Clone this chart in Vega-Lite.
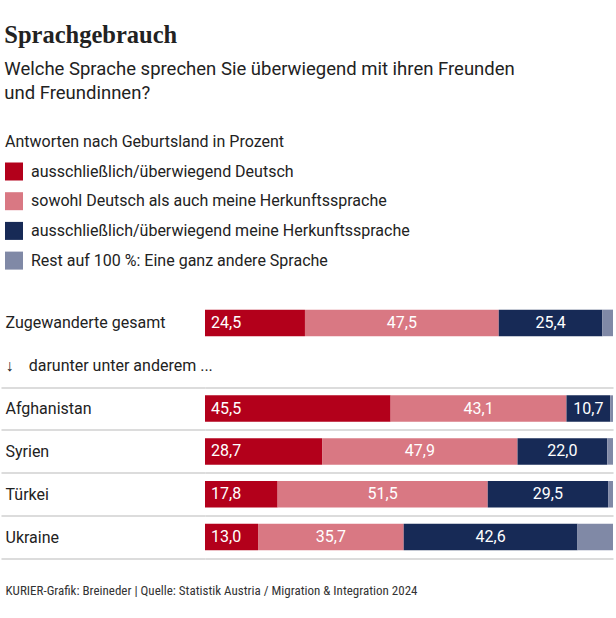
{
  "$schema": "https://vega.github.io/schema/vega-lite/v6.json",
  "width": 408,
  "height": 257,
  "padding": {"left": 0, "right": 4, "top": 22.5, "bottom": 10},
  "background": "white",
  "title": {
    "text": "Sprachgebrauch",
    "subtitle": ["Welche Sprache sprechen Sie überwiegend mit ihren Freunden", "und Freundinnen?"],
    "anchor": "start",
    "dx": 4,
    "font": "Liberation Serif",
    "fontSize": 24.5,
    "fontWeight": "bold",
    "color": "#222222",
    "subtitleFont": "Roboto",
    "subtitleFontSize": 18.5,
    "subtitleColor": "#222222",
    "subtitleLineHeight": 24,
    "subtitlePadding": 12,
    "offset": 30
  },
  "data": {
    "values": [
      {"group": "Zugewanderte gesamt", "cat": "ausschließlich/überwiegend Deutsch", "k": 1, "value": 24.5},
      {"group": "Zugewanderte gesamt", "cat": "sowohl Deutsch als auch meine Herkunftssprache", "k": 2, "value": 47.5},
      {"group": "Zugewanderte gesamt", "cat": "ausschließlich/überwiegend meine Herkunftssprache", "k": 3, "value": 25.4},
      {"group": "Zugewanderte gesamt", "cat": "Rest auf 100 %: Eine ganz andere Sprache", "k": 4, "value": 2.6},
      {"group": "Afghanistan", "cat": "ausschließlich/überwiegend Deutsch", "k": 1, "value": 45.5},
      {"group": "Afghanistan", "cat": "sowohl Deutsch als auch meine Herkunftssprache", "k": 2, "value": 43.1},
      {"group": "Afghanistan", "cat": "ausschließlich/überwiegend meine Herkunftssprache", "k": 3, "value": 10.7},
      {"group": "Afghanistan", "cat": "Rest auf 100 %: Eine ganz andere Sprache", "k": 4, "value": 0.7},
      {"group": "Syrien", "cat": "ausschließlich/überwiegend Deutsch", "k": 1, "value": 28.7},
      {"group": "Syrien", "cat": "sowohl Deutsch als auch meine Herkunftssprache", "k": 2, "value": 47.9},
      {"group": "Syrien", "cat": "ausschließlich/überwiegend meine Herkunftssprache", "k": 3, "value": 22.0},
      {"group": "Syrien", "cat": "Rest auf 100 %: Eine ganz andere Sprache", "k": 4, "value": 1.4},
      {"group": "Türkei", "cat": "ausschließlich/überwiegend Deutsch", "k": 1, "value": 17.8},
      {"group": "Türkei", "cat": "sowohl Deutsch als auch meine Herkunftssprache", "k": 2, "value": 51.5},
      {"group": "Türkei", "cat": "ausschließlich/überwiegend meine Herkunftssprache", "k": 3, "value": 29.5},
      {"group": "Türkei", "cat": "Rest auf 100 %: Eine ganz andere Sprache", "k": 4, "value": 1.2},
      {"group": "Ukraine", "cat": "ausschließlich/überwiegend Deutsch", "k": 1, "value": 13.0},
      {"group": "Ukraine", "cat": "sowohl Deutsch als auch meine Herkunftssprache", "k": 2, "value": 35.7},
      {"group": "Ukraine", "cat": "ausschließlich/überwiegend meine Herkunftssprache", "k": 3, "value": 42.6},
      {"group": "Ukraine", "cat": "Rest auf 100 %: Eine ganz andere Sprache", "k": 4, "value": 8.7}
    ]
  },
  "transform": [
    {"stack": "value", "groupby": ["group"], "sort": [{"field": "k", "order": "ascending"}], "as": ["v0", "v1"]},
    {"calculate": "(datum.v0 + datum.v1) / 2", "as": "mid"}
  ],
  "encoding": {
    "y": {
      "field": "group",
      "type": "nominal",
      "scale": {
        "domain": ["Zugewanderte gesamt", "darunter", "Afghanistan", "Syrien", "Türkei", "Ukraine"],
        "paddingInner": 0.38,
        "paddingOuter": 0.19
      },
      "axis": {
        "title": null,
        "orient": "left",
        "domain": false,
        "ticks": true,
        "tickSize": 204,
        "tickWidth": 1.5,
        "tickColor": {"condition": {"test": "datum.value === 'Zugewanderte gesamt'", "value": "transparent"}, "value": "#d0d0d0"},
        "grid": true,
        "gridWidth": 1.5,
        "gridColor": {"condition": {"test": "datum.value === 'Zugewanderte gesamt'", "value": "transparent"}, "value": "#d0d0d0"},
        "bandPosition": 0.5,
        "tickOffset": 21.4,
        "labelOffset": -21.4,
        "labelAlign": "left",
        "labelBaseline": "middle",
        "labelPadding": -4,
        "labelLimit": 400,
        "labelFont": "Roboto",
        "labelFontSize": 16,
        "labelColor": "#222222",
        "labelExpr": "datum.value === 'darunter' ? '↓\u00a0\u00a0\u00a0\u2009darunter unter anderem ...' : datum.value"
      }
    }
  },
  "layer": [
    {
      "mark": {"type": "bar"},
      "encoding": {
        "x": {
          "field": "v0",
          "type": "quantitative",
          "scale": {"domain": [0, 100], "nice": false},
          "axis": {
            "title": "KURIER-Grafik: Breineder | Quelle: Statistik Austria / Migration & Integration 2024",
            "domain": false,
            "ticks": false,
            "labels": false,
            "grid": false,
            "titleAnchor": "start",
            "titleAlign": "left",
            "titleX": -200,
            "titleY": 32,
            "titleBaseline": "middle",
            "titleLimit": 600,
            "titleFont": "Roboto Condensed, Liberation Sans Narrow, Roboto",
            "titleFontSize": 13,
            "titleFontWeight": "normal",
            "titleColor": "#333333"
          }
        },
        "x2": {"field": "v1"},
        "color": {
          "field": "cat",
          "type": "nominal",
          "scale": {
            "domain": [
              "ausschließlich/überwiegend Deutsch",
              "sowohl Deutsch als auch meine Herkunftssprache",
              "ausschließlich/überwiegend meine Herkunftssprache",
              "Rest auf 100 %: Eine ganz andere Sprache"
            ],
            "range": ["#b3001b", "#d97883", "#172a56", "#8089a6"]
          },
          "legend": {
            "orient": "none",
            "legendX": -200,
            "legendY": -168,
            "direction": "vertical",
            "title": "Antworten nach Geburtsland in Prozent",
            "titleFont": "Roboto",
            "titleFontSize": 16,
            "titleFontWeight": "normal",
            "titleColor": "#222222",
            "titlePadding": 13,
            "titleLimit": 500,
            "labelFont": "Roboto",
            "labelFontSize": 16,
            "labelColor": "#222222",
            "labelLimit": 500,
            "labelOffset": 8,
            "symbolType": "square",
            "symbolSize": 324,
            "symbolStrokeWidth": 0,
            "symbolOpacity": 1,
            "rowPadding": 11.7,
            "padding": 0
          }
        },
        "order": {"field": "k"}
      }
    },
    {
      "transform": [{"filter": "datum.k === 1"}],
      "mark": {"type": "text", "align": "left", "baseline": "middle", "dx": 6, "font": "Roboto", "fontSize": 16, "color": "white"},
      "encoding": {
        "x": {"field": "v0", "type": "quantitative"},
        "text": {"field": "value", "type": "quantitative", "format": ".1f"}
      }
    },
    {
      "transform": [{"filter": "datum.k === 2 || datum.k === 3"}],
      "mark": {"type": "text", "align": "center", "baseline": "middle", "font": "Roboto", "fontSize": 16, "color": "white"},
      "encoding": {
        "x": {"field": "mid", "type": "quantitative"},
        "text": {"field": "value", "type": "quantitative", "format": ".1f"}
      }
    }
  ],
  "config": {
    "view": {"stroke": null},
    "locale": {"number": {"decimal": ",", "thousands": ".", "grouping": [3], "currency": ["", " €"]}}
  }
}
